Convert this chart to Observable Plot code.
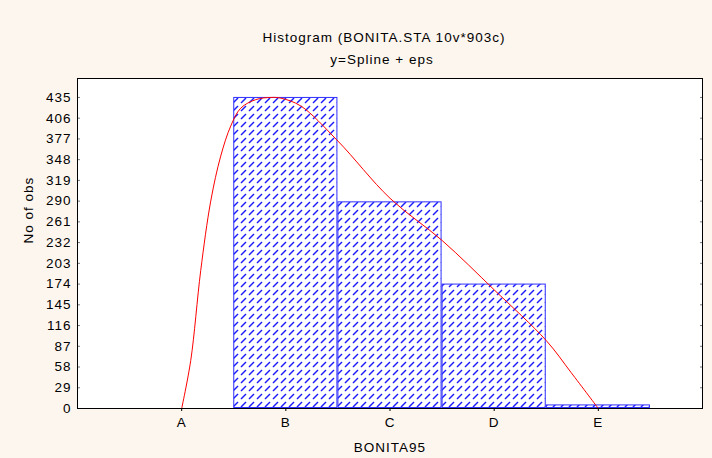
<!DOCTYPE html>
<html>
<head>
<meta charset="utf-8">
<script src="https://cdn.jsdelivr.net/npm/d3@7"></script>
<script src="https://cdn.jsdelivr.net/npm/@observablehq/plot@0.6"></script>
<style>
  html, body { margin: 0; padding: 0; background: #fdf6ef; }
  #chart svg { display: block; }
</style>
</head>
<body>
<div id="chart"></div>
<script>
// Histogram categories and counts
const categories = ["A", "B", "C", "D", "E"];
const counts = [0, 435, 289, 174, 5];
// y axis tick values
const yTicks = [0, 29, 58, 87, 116, 145, 174, 203, 232, 261, 290, 319, 348, 377, 406, 435];
// Fitted spline (x in category units, A = 1 … E = 5)
const splineX = [1.0, 1.087, 1.183, 1.279, 1.375, 1.471, 1.567, 1.712, 1.856, 1.952, 2.144, 2.5, 3.0, 3.5, 4.0, 4.5, 4.74, 5.0];
const splineY = [0, 67, 193, 290, 353, 395, 420, 432, 435, 434, 423, 374, 294, 235, 166, 95, 50, 0];

const bars = categories.map((c, i) => ({cat: c, pos: i + 1, n: counts[i]})).filter(d => d.n > 0);
const spline = splineX.map((x, i) => ({x, y: splineY[i]}));

const font = "'Liberation Sans', Arial, sans-serif";

const plot = Plot.plot({
  width: 712,
  height: 458,
  marginLeft: 77,
  marginRight: 10,
  marginTop: 78,
  marginBottom: 50,
  style: {background: "#fdf6ef", fontFamily: font, fontSize: "13.5px", color: "#000", letterSpacing: "1px"},
  x: {domain: [0, 6], label: null},
  y: {domain: [0, 461.5], label: null},
  marks: [
    Plot.frame({fill: "white", stroke: "none"}),
    Plot.rectY(bars, {
      x1: d => d.pos - 0.5, x2: d => d.pos + 0.5, y: "n",
      fill: "url(#hatch)", stroke: "#2f2fff", strokeWidth: 1, inset: 0.5
    }),
    Plot.line(spline, {x: "x", y: "y", curve: "catmull-rom", stroke: "#ff0000", strokeWidth: 1}),
    Plot.axisY({ticks: yTicks, tickSize: 0, tickPadding: 6, label: null, fontSize: 13.5}),
    Plot.axisY({ticks: yTicks, tickSize: 3, dx: 3, text: null, label: null, stroke: "#777"}),
    Plot.axisY({anchor: "right", ticks: yTicks, tickSize: 3, dx: -3, text: null, label: null, stroke: "#777"}),
    Plot.axisX({ticks: [1, 2, 3, 4, 5], tickFormat: d => categories[d - 1], tickSize: 3, tickPadding: 6, label: null, fontSize: 13.5}),
    Plot.frame({stroke: "black", strokeWidth: 1}),
    Plot.text(["Histogram (BONITA.STA 10v*903c)"], {frameAnchor: "top", dy: -46, dx: -6, fontSize: 13.5}),
    Plot.text(["y=Spline + eps"], {frameAnchor: "top", dy: -24, dx: -8, fontSize: 13.5}),
    Plot.text(["BONITA95"], {frameAnchor: "bottom", dy: 43, fontSize: 13.5}),
    Plot.text(["No of obs"], {frameAnchor: "left", dx: -49, rotate: -90, fontSize: 13.5})
  ]
});

// Hatch pattern definition for the bars
const svg = d3.select(plot);
const defs = svg.insert("defs", ":first-child");
const pat = defs.append("pattern")
  .attr("id", "hatch")
  .attr("patternUnits", "userSpaceOnUse")
  .attr("width", 8).attr("height", 8);
pat.append("rect").attr("width", 8).attr("height", 8).attr("fill", "white");
pat.append("path").attr("d", "M1,7 L6,2").attr("stroke", "#1a1aff").attr("stroke-width", 1.4);

document.getElementById("chart").appendChild(plot);
</script>
</body>
</html>
